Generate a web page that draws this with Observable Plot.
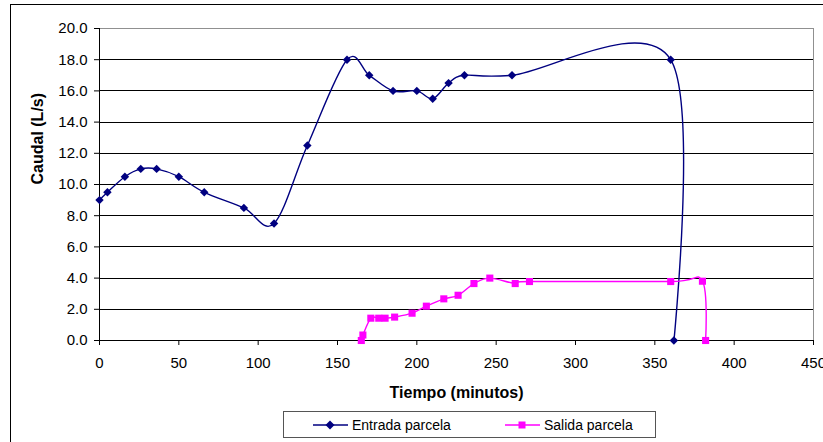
<!DOCTYPE html>
<html>
<head>
<meta charset="utf-8">
<script src="https://cdn.jsdelivr.net/npm/d3@7"></script>
<script src="https://cdn.jsdelivr.net/npm/@observablehq/plot@0.6"></script>
<style>
  html, body { margin: 0; padding: 0; background: #fff; width: 823px; height: 442px; overflow: hidden; }
  #wrap { position: relative; width: 823px; height: 442px; font-family: "Liberation Sans", Arial, sans-serif; }
  #frame { position: absolute; left: 10px; top: 4px; width: 900px; height: 500px; border: 1px solid #000; box-sizing: border-box; pointer-events: none; }
  #chart { position: absolute; left: 0; top: 0; }
  #legend { position: absolute; left: 283px; top: 411px; width: 373px; height: 27px; border: 1px solid #555; box-sizing: border-box; background: #fff; font-size: 14px; color: #000; }
  .item { position: absolute; top: 0; height: 25px; display: flex; align-items: center; }
  .item svg { margin-right: 4px; }
</style>
</head>
<body>
<div id="wrap">
  <div id="frame"></div>
  <div id="chart"></div>
  <div id="legend"></div>
</div>
<script>
// Data
const xTicks = [0, 50, 100, 150, 200, 250, 300, 350, 400, 450];
const yTicks = [0, 2, 4, 6, 8, 10, 12, 14, 16, 18, 20];

const entradaT = [0, 5, 16, 26, 36, 50, 66, 91, 110, 131, 156, 170, 185, 200, 210, 220, 230, 260, 360, 362];
const entradaQ = [9.0, 9.5, 10.5, 11.0, 11.0, 10.5, 9.5, 8.5, 7.5, 12.5, 18.0, 17.0, 16.0, 16.0, 15.5, 16.5, 17.0, 17.0, 18.0, 0.0];

const salidaT = [165, 166, 171, 176, 180, 186, 197, 206, 217, 226, 236, 246, 262, 271, 360, 380, 382];
const salidaQ = [0.0, 0.35, 1.43, 1.43, 1.43, 1.5, 1.75, 2.2, 2.67, 2.9, 3.65, 4.0, 3.65, 3.78, 3.78, 3.8, 0.0];

const seriesNames = ["Entrada parcela", "Salida parcela"];
const seriesColors = ["#000080", "#FF00FF"];

const entrada = entradaT.map((t, i) => ({t, q: entradaQ[i]}));
const salida = salidaT.map((t, i) => ({t, q: salidaQ[i]}));

const chart = Plot.plot({
  width: 823,
  height: 408,
  marginLeft: 99,
  marginRight: 10,
  marginTop: 28,
  marginBottom: 68,
  style: { fontFamily: "'Liberation Sans', Arial, sans-serif", fontSize: "15px", color: "#000", background: "transparent", overflow: "visible" },
  x: { domain: [0, 450] },
  y: { domain: [0, 20] },
  marks: [
    Plot.ruleY(yTicks.filter(d => d > 0 && d < 20), { stroke: "#000", strokeWidth: 1, shapeRendering: "crispEdges" }),
    Plot.ruleY([20], { stroke: "#909090", shapeRendering: "crispEdges" }),
    Plot.ruleX([450], { stroke: "#909090", shapeRendering: "crispEdges" }),
    Plot.axisX({ ticks: xTicks, tickSize: 5, tickPadding: 12, tickFormat: d => String(d), label: null, fontSize: 15, stroke: "#000" }),
    Plot.axisY({ ticks: yTicks, tickSize: 5, tickPadding: 7, tickFormat: d => d.toFixed(1), label: null, fontSize: 15, stroke: "#000" }),
    Plot.ruleX([0], { stroke: "#000", shapeRendering: "crispEdges" }),
    Plot.ruleY([0], { stroke: "#000", shapeRendering: "crispEdges" }),
    Plot.text(["Tiempo (minutos)"], { frameAnchor: "bottom", dy: 52, lineAnchor: "middle", fontWeight: "bold", fontSize: 16 }),
    Plot.text(["Caudal (L/s)"], { frameAnchor: "left", dx: -62, rotate: -90, lineAnchor: "middle", fontWeight: "bold", fontSize: 16 }),
    Plot.line(entrada, { x: "t", y: "q", stroke: seriesColors[0], strokeWidth: 1.4, curve: "cardinal", tension: 0 }),
    Plot.line(salida, { x: "t", y: "q", stroke: seriesColors[1], strokeWidth: 1.4, curve: "cardinal", tension: 0 }),
    Plot.dot(entrada, { x: "t", y: "q", symbol: "diamond2", r: 3.8, fill: seriesColors[0], stroke: "none" }),
    Plot.dot(salida, { x: "t", y: "q", symbol: "square", r: 4.0, fill: seriesColors[1], stroke: "none" })
  ]
});
document.getElementById("chart").appendChild(chart);

// Legend
const legend = document.getElementById("legend");
const legendPos = [29, 221];
const markers = [
  c => `<polygon points="17,2.5 21.5,7 17,11.5 12.5,7" fill="${c}"/>`,
  c => `<rect x="13.5" y="3.5" width="7" height="7" fill="${c}"/>`
];
seriesNames.forEach((name, i) => {
  const div = document.createElement("div");
  div.className = "item";
  div.style.left = legendPos[i] + "px";
  div.innerHTML = `<svg width="35" height="14"><line x1="0" y1="7" x2="35" y2="7" stroke="${seriesColors[i]}" stroke-width="1.4"/>${markers[i](seriesColors[i])}</svg><span>${name}</span>`;
  legend.appendChild(div);
});
</script>
</body>
</html>
